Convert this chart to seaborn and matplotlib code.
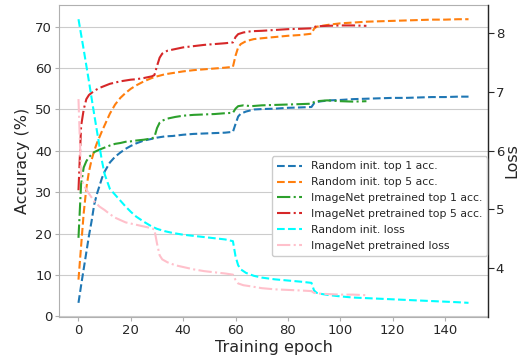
import matplotlib
matplotlib.use("Agg")
import matplotlib.pyplot as plt
import seaborn as sns
import pandas as pd

# ---------------- data ----------------
rand_acc_epochs = [0, 1, 2, 3, 4, 5, 6, 7, 8, 9, 10, 12, 14, 16, 18, 20, 22, 25, 28, 30,
                   33, 36, 40, 44, 48, 52, 56, 59, 60, 61, 62, 64, 67, 70, 75, 80, 85, 89,
                   90, 91, 93, 96, 100, 105, 110, 115, 120, 125, 130, 135, 140, 145, 149]
rand_top1 = [3.3, 7.5, 11.5, 15.5, 19.5, 23.0, 27.0, 29.5, 31.5, 33.5, 35.0, 37.2, 38.6, 39.6,
             40.5, 41.2, 41.8, 42.5, 42.9, 43.2, 43.5, 43.6, 43.9, 44.1, 44.2, 44.3, 44.4,
             44.6, 46.5, 48.3, 49.0, 49.5, 50.0, 50.1, 50.2, 50.4, 50.5, 50.6, 51.5, 51.8,
             52.0, 52.2, 52.3, 52.5, 52.6, 52.7, 52.8, 52.8, 52.9, 53.0, 53.0, 53.1, 53.1]
rand_top5 = [8.9, 17.0, 25.0, 31.0, 35.0, 37.8, 40.0, 41.8, 43.3, 44.8, 46.2, 49.0, 51.2, 52.8,
             54.0, 55.0, 55.8, 56.8, 57.6, 58.0, 58.5, 58.8, 59.2, 59.5, 59.7, 59.9, 60.1,
             60.3, 63.0, 65.0, 65.8, 66.5, 67.0, 67.2, 67.5, 67.8, 68.0, 68.3, 69.5, 70.0,
             70.2, 70.5, 70.8, 71.0, 71.2, 71.3, 71.4, 71.5, 71.6, 71.7, 71.7, 71.8, 71.8]
rand_loss = [8.24, 7.98, 7.72, 7.45, 7.18, 6.90, 6.62, 6.35, 6.08, 5.82, 5.60, 5.35, 5.25,
             5.15, 5.05, 4.96, 4.88, 4.79, 4.71, 4.67, 4.63, 4.60, 4.57, 4.55, 4.53, 4.51,
             4.49, 4.46, 4.20, 4.05, 3.98, 3.92, 3.87, 3.84, 3.81, 3.79, 3.77, 3.75, 3.62,
             3.58, 3.56, 3.54, 3.52, 3.50, 3.49, 3.48, 3.47, 3.46, 3.45, 3.44, 3.43, 3.42, 3.41]

pre_epochs = [0, 1, 2, 3, 4, 6, 8, 10, 12, 14, 16, 18, 20, 22, 25, 28, 29, 30, 31, 32, 34,
              37, 40, 44, 48, 52, 56, 59, 60, 61, 63, 66, 70, 75, 80, 85, 89, 90, 91, 95,
              100, 105, 110]
pre_top1 = [19.0, 32.0, 36.0, 37.5, 38.5, 39.7, 40.3, 40.8, 41.3, 41.7, 41.9, 42.2, 42.3,
            42.5, 42.7, 43.0, 43.3, 45.5, 46.8, 47.3, 47.8, 48.2, 48.5, 48.7, 48.8, 48.9,
            49.1, 49.2, 50.2, 50.8, 51.0, 50.8, 51.0, 51.1, 51.2, 51.3, 51.4, 51.8, 52.0,
            52.2, 52.0, 51.9, 52.0]
pre_top5 = [30.5, 46.0, 50.0, 52.5, 53.5, 54.5, 55.2, 55.7, 56.2, 56.5, 56.8, 57.0, 57.2,
            57.3, 57.6, 58.0, 58.3, 60.5, 62.5, 63.5, 64.2, 64.6, 65.0, 65.3, 65.6, 65.8,
            66.0, 66.2, 67.5, 68.2, 68.6, 68.9, 69.0, 69.2, 69.4, 69.5, 69.6, 69.9, 70.1,
            70.2, 70.3, 70.3, 70.2]
pre_loss = [6.88, 5.55, 5.42, 5.34, 5.27, 5.14, 5.05, 4.99, 4.92, 4.86, 4.82, 4.78, 4.76,
            4.74, 4.71, 4.68, 4.66, 4.42, 4.22, 4.15, 4.10, 4.05, 4.02, 3.98, 3.95, 3.93,
            3.91, 3.89, 3.80, 3.74, 3.71, 3.69, 3.66, 3.64, 3.63, 3.62, 3.61, 3.58, 3.57,
            3.56, 3.55, 3.55, 3.54]

labels = ["Random init. top 1 acc.", "Random init. top 5 acc.",
          "ImageNet pretrained top 1 acc.", "ImageNet pretrained top 5 acc.",
          "Random init. loss", "ImageNet pretrained loss"]

# ---------------- style ----------------
sns.set_style("whitegrid", {
    "axes.edgecolor": "#b0b0b0",
    "grid.color": "#cccccc",
    "xtick.bottom": True,
    "ytick.left": True,
    "xtick.color": "#262626",
    "ytick.color": "#262626",
})
plt.rcParams["font.family"] = ["DejaVu Sans"]

fig = plt.figure(figsize=(5.21, 3.6), dpi=100)
ax = fig.add_subplot(111)
fig.subplots_adjust(left=0.1132, right=0.9367, top=0.986, bottom=0.1194)

df_r = pd.DataFrame({"epoch": rand_acc_epochs, "top1": rand_top1, "top5": rand_top5,
                     "loss": rand_loss})
df_p = pd.DataFrame({"epoch": pre_epochs, "top1": pre_top1, "top5": pre_top5,
                     "loss": pre_loss})

lw = 1.5
sns.lineplot(data=df_r, x="epoch", y="top1", ax=ax, color="tab:blue", linestyle="--",
             linewidth=lw, label=labels[0])
sns.lineplot(data=df_r, x="epoch", y="top5", ax=ax, color="tab:orange", linestyle="--",
             linewidth=lw, label=labels[1])
sns.lineplot(data=df_p, x="epoch", y="top1", ax=ax, color="tab:green", linestyle="-.",
             linewidth=lw, label=labels[2])
sns.lineplot(data=df_p, x="epoch", y="top5", ax=ax, color="tab:red", linestyle="-.",
             linewidth=lw, label=labels[3])

ax2 = ax.twinx()
sns.lineplot(data=df_r, x="epoch", y="loss", ax=ax2, color="cyan", linestyle="--",
             linewidth=lw, label=labels[4])
sns.lineplot(data=df_p, x="epoch", y="loss", ax=ax2, color="pink", linestyle="-.",
             linewidth=lw, label=labels[5])
ax2.grid(False)
ax.xaxis.grid(False)

ax.set_xlim(-7.45, 156.45)
ax.set_xticks([0, 20, 40, 60, 80, 100, 120, 140])
ax.set_yticks([0, 10, 20, 30, 40, 50, 60, 70])
ax2.set_yticks([4, 5, 6, 7, 8])

ax.set_xlabel("Training epoch", fontsize=11.5, color="#262626", labelpad=2)
ax.set_ylabel("Accuracy (%)", fontsize=11.5, color="#262626")
ax2.set_ylabel("Loss", fontsize=11.5, color="#262626", labelpad=0)
ax.tick_params(axis="both", labelsize=9.5, length=3, color="#b0b0b0", pad=2)
ax2.tick_params(axis="y", labelsize=9.5, length=4, color="#262626", labelcolor="#262626",
                right=True, pad=1.5)
for s in ["left", "top", "bottom"]:
    ax2.spines[s].set_visible(False)
ax2.spines["right"].set_color("#262626")
ax2.spines["right"].set_linewidth(1.0)

h1, l1 = ax.get_legend_handles_labels()
h2, l2 = ax2.get_legend_handles_labels()
if ax.get_legend() is not None:
    ax.get_legend().remove()
if ax2.get_legend() is not None:
    ax2.get_legend().remove()
ax2.legend(h1 + h2, l1 + l2, loc="center right", bbox_to_anchor=(1.0, 0.355),
           borderaxespad=0.1, fontsize=7.8, handlelength=2.3, framealpha=1.0,
           edgecolor="#cccccc", labelcolor="#262626", borderpad=0.45, labelspacing=0.55)

fig.savefig("out.png", dpi=100)
